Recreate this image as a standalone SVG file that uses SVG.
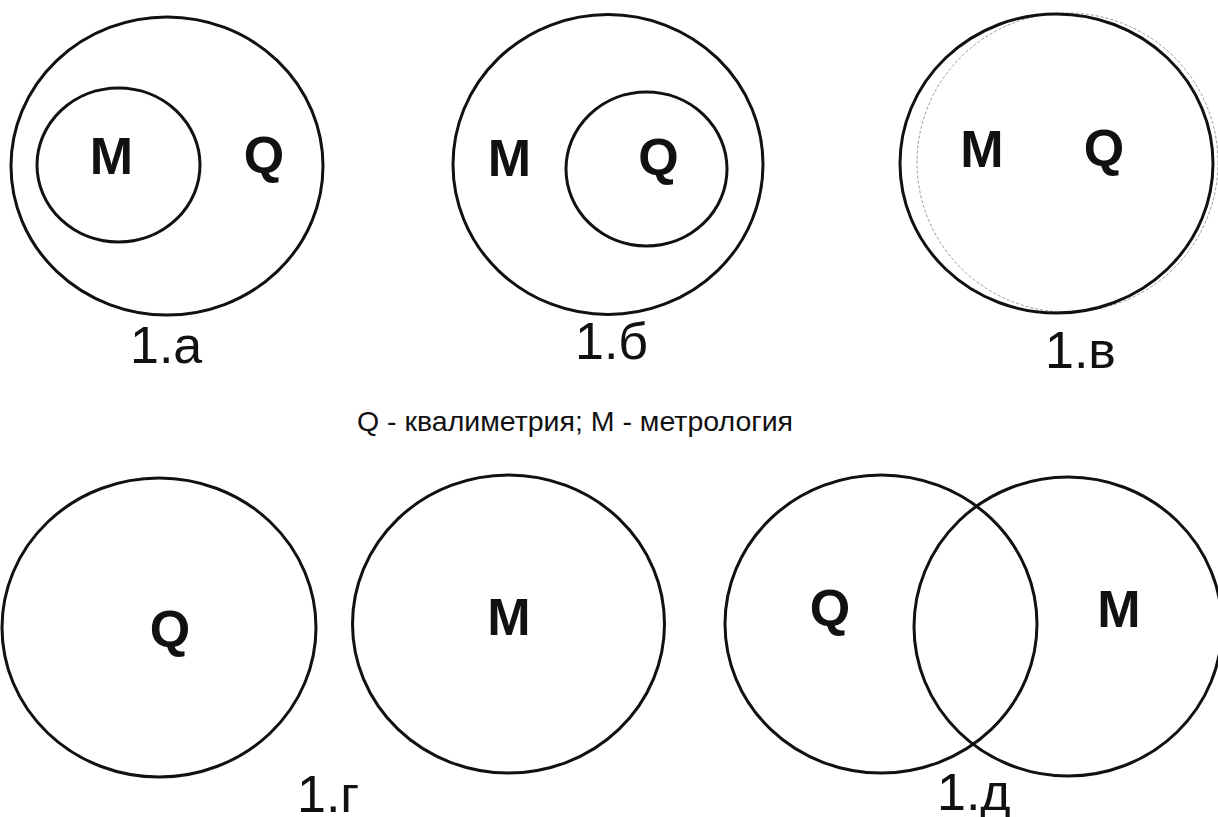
<svg xmlns="http://www.w3.org/2000/svg" width="1218" height="817" viewBox="0 0 1218 817">
  <style>
    .ring { fill: none; stroke: #111; stroke-width: 3; }
    .ghost { fill: none; stroke: #999; stroke-width: 1; stroke-dasharray: 3 2; }
    .set { font-family: "Liberation Sans", Arial, sans-serif; font-weight: bold; font-size: 52px; fill: #111; text-anchor: middle; }
    .cap { font-family: "Liberation Sans", Arial, sans-serif; font-size: 52px; fill: #111; }
    .legend { font-family: "Liberation Sans", Arial, sans-serif; font-size: 28.5px; fill: #111; }
  </style>
  <rect width="1218" height="817" fill="#fff"/>

  <!-- 1.а : M inside Q -->
  <g id="fig-1a">
    <ellipse class="ring" cx="167" cy="166" rx="156" ry="149"/>
    <ellipse class="ring" cx="118.5" cy="165" rx="81.5" ry="77"/>
    <text class="set" x="111.5" y="174" font-size="48">M</text>
    <text class="set" x="264" y="173" font-size="48">Q</text>
    <text class="cap" x="130" y="363">1.а</text>
  </g>

  <!-- 1.б : Q inside M -->
  <g id="fig-1b">
    <ellipse class="ring" cx="608" cy="164.5" rx="155" ry="150"/>
    <ellipse class="ring" cx="646.5" cy="169" rx="80.5" ry="77"/>
    <text class="set" x="509.5" y="176" font-size="50">M</text>
    <text class="set" x="658.5" y="175" font-size="50">Q</text>
    <text class="cap" x="575" y="359">1.б</text>
  </g>

  <!-- 1.в : M and Q coincide -->
  <g id="fig-1v">
    <ellipse class="ghost" cx="1067.5" cy="162.5" rx="150.5" ry="149.5"/>
    <ellipse class="ring" cx="1056.5" cy="163.5" rx="156.5" ry="149.5"/>
    <text class="set" x="982" y="167">M</text>
    <text class="set" x="1104" y="166">Q</text>
    <text class="cap" x="1045" y="368">1.в</text>
  </g>

  <!-- legend -->
  <g id="legend">
    <text class="legend" x="357" y="431">Q - квалиметрия; M - метрология</text>
  </g>

  <!-- 1.г : disjoint sets -->
  <g id="fig-1g">
    <ellipse class="ring" cx="159" cy="627.5" rx="157" ry="149.5"/>
    <ellipse class="ring" cx="508.5" cy="624" rx="156" ry="149"/>
    <text class="set" x="170" y="647">Q</text>
    <text class="set" x="509" y="635">M</text>
    <text class="cap" x="297" y="812" font-size="55">1.г</text>
  </g>

  <!-- 1.д : overlapping sets -->
  <g id="fig-1d">
    <ellipse class="ring" cx="881" cy="624" rx="156" ry="149"/>
    <ellipse class="ring" cx="1068" cy="626.5" rx="154" ry="149.5"/>
    <text class="set" x="830" y="626">Q</text>
    <text class="set" x="1119" y="627">M</text>
    <text class="cap" x="937" y="810">1.д</text>
  </g>
</svg>
